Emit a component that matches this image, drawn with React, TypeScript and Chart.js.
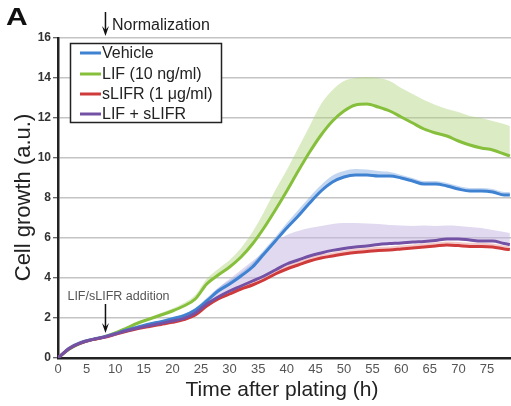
import { useEffect, useRef } from "react";
import { Chart, registerables } from "chart.js";
Chart.register(...registerables);

const times = [0, 2, 4, 6, 8, 10, 12, 14, 16, 18, 20, 22, 24, 26, 28, 30, 32, 34, 36, 38, 40, 42, 44, 46, 48, 50, 52, 54, 56, 58, 60, 62, 64, 66, 68, 70, 72, 74, 76, 78, 79];

const vehicle = [0, 0.5, 0.78, 0.93, 1.05, 1.22, 1.4, 1.55, 1.7, 1.82, 1.97, 2.12, 2.4, 2.85, 3.35, 3.7, 4.1, 4.55, 5.2, 5.85, 6.5, 7.1, 7.75, 8.35, 8.8, 9.05, 9.15, 9.15, 9.1, 9.1, 9.0, 8.85, 8.7, 8.7, 8.6, 8.45, 8.35, 8.35, 8.3, 8.15, 8.15];
const vehicleUpper = [0, 0.55, 0.83, 0.98, 1.1, 1.27, 1.45, 1.6, 1.75, 1.88, 2.03, 2.2, 2.5, 3.0, 3.5, 3.87, 4.27, 4.75, 5.4, 6.05, 6.75, 7.4, 8.05, 8.65, 9.12, 9.35, 9.45, 9.42, 9.35, 9.3, 9.15, 9.0, 8.85, 8.85, 8.75, 8.6, 8.5, 8.5, 8.45, 8.3, 8.3];

const lif = [0, 0.45, 0.75, 0.92, 1.05, 1.25, 1.5, 1.75, 1.95, 2.15, 2.35, 2.6, 2.95, 3.7, 4.15, 4.55, 5.05, 5.7, 6.5, 7.4, 8.35, 9.35, 10.3, 11.15, 11.85, 12.35, 12.65, 12.7, 12.55, 12.35, 12.05, 11.75, 11.45, 11.25, 11.1, 10.85, 10.65, 10.5, 10.4, 10.2, 10.1];
const lifUpper = [0, 0.5, 0.8, 0.95, 1.08, 1.3, 1.55, 1.82, 2.03, 2.25, 2.47, 2.75, 3.15, 3.95, 4.45, 4.9, 5.5, 6.3, 7.3, 8.4, 9.4, 10.5, 11.6, 12.7, 13.4, 13.85, 14.0, 14.05, 14.0, 13.85, 13.5, 13.2, 12.9, 12.65, 12.45, 12.3, 12.1, 12.0, 11.85, 11.7, 11.6];

const sLifr = [0, 0.48, 0.75, 0.92, 1.03, 1.18, 1.33, 1.47, 1.58, 1.68, 1.78, 1.92, 2.15, 2.6, 2.95, 3.2, 3.45, 3.65, 3.9, 4.2, 4.45, 4.65, 4.85, 5.0, 5.1, 5.2, 5.28, 5.32, 5.38, 5.4, 5.45, 5.5, 5.55, 5.6, 5.65, 5.62, 5.58, 5.58, 5.55, 5.45, 5.42];
const sLifrUpper = [0, 0.52, 0.8, 0.97, 1.08, 1.24, 1.4, 1.55, 1.67, 1.78, 1.9, 2.05, 2.3, 2.75, 3.1, 3.37, 3.62, 3.83, 4.08, 4.38, 4.63, 4.83, 5.03, 5.18, 5.28, 5.38, 5.46, 5.5, 5.56, 5.58, 5.63, 5.68, 5.73, 5.78, 5.83, 5.8, 5.76, 5.76, 5.73, 5.63, 5.6];

const combo = [0, 0.48, 0.76, 0.92, 1.04, 1.2, 1.36, 1.5, 1.62, 1.73, 1.85, 1.98, 2.25, 2.7, 3.05, 3.35, 3.6, 3.85, 4.1, 4.4, 4.7, 4.9, 5.1, 5.25, 5.38, 5.48, 5.55, 5.6, 5.68, 5.72, 5.75, 5.8, 5.83, 5.88, 5.95, 5.95, 5.9, 5.85, 5.85, 5.72, 5.68];
const comboUpper = [0, 0.5, 0.78, 0.94, 1.06, 1.23, 1.4, 1.55, 1.68, 1.8, 1.93, 2.08, 2.4, 2.95, 3.5, 3.95, 4.4, 4.85, 5.3, 5.8, 6.15, 6.35, 6.5, 6.6, 6.7, 6.75, 6.75, 6.72, 6.7, 6.65, 6.62, 6.6, 6.62, 6.6, 6.62, 6.6, 6.55, 6.5, 6.4, 6.3, 6.25];

const seriesNames = ["Vehicle", "LIF (10 ng/ml)", "sLIFR (1 \u03bcg/ml)", "LIF + sLIFR"];
const seriesColors = ["#3f82d2", "#86bf3c", "#cf3a3a", "#7352a6"];
const bandColors = ["rgba(120,165,225,0.45)", "rgba(175,212,125,0.45)", "rgba(235,160,160,0.55)", "rgba(195,180,225,0.5)"];

const yTicks = [0, 2, 4, 6, 8, 10, 12, 14, 16];
const FONT = "'Liberation Sans', Arial, Helvetica, sans-serif";

const pts = (vals: number[]) => vals.map((v, i) => ({ x: times[i], y: v }));

function arrow(ctx: CanvasRenderingContext2D, x: number, y1: number, y2: number) {
  ctx.beginPath();
  ctx.moveTo(x, y1);
  ctx.lineTo(x, y2 - 4);
  ctx.strokeStyle = "#111";
  ctx.lineWidth = 1.5;
  ctx.stroke();
  ctx.beginPath();
  ctx.moveTo(x - 3.5, y2 - 10);
  ctx.lineTo(x, y2);
  ctx.lineTo(x + 3.5, y2 - 10);
  ctx.lineTo(x, y2 - 6);
  ctx.closePath();
  ctx.fillStyle = "#111";
  ctx.fill();
}

const annotPlugin = {
  id: "annot",
  afterDraw(chart: any) {
    const ctx: CanvasRenderingContext2D = chart.ctx;
    const xs = chart.scales.x;
    const ca = chart.chartArea;
    ctx.save();
    // panel letter
    ctx.save();
    ctx.fillStyle = "#111";
    ctx.font = `bold 24px ${FONT}`;
    ctx.textBaseline = "alphabetic";
    ctx.textAlign = "left";
    ctx.translate(6, 25);
    ctx.scale(1.25, 1);
    ctx.fillText("A", 0, 0);
    ctx.restore();
    // normalization arrow
    const xa = xs.getPixelForValue(8.3);
    arrow(ctx, xa, 12, 36);
    ctx.font = `16px ${FONT}`;
    ctx.fillStyle = "#222";
    ctx.textAlign = "left";
    ctx.textBaseline = "alphabetic";
    ctx.fillText("Normalization", 112, 29.5);
    // LIF/sLIFR addition
    ctx.font = `12.5px ${FONT}`;
    ctx.fillStyle = "#555";
    ctx.textAlign = "center";
    ctx.fillText("LIF/sLIFR addition", 118.5, 299.5);
    arrow(ctx, xa, 304, 333);
    // legend
    ctx.fillStyle = "#fff";
    ctx.fillRect(70, 43, 152, 80);
    ctx.strokeStyle = "#222";
    ctx.lineWidth = 1.5;
    ctx.strokeRect(70.5, 43.5, 151, 79);
    ctx.textAlign = "left";
    ctx.font = `16px ${FONT}`;
    const rows = [53, 74, 94, 114];
    seriesNames.forEach((n, i) => {
      ctx.beginPath();
      ctx.moveTo(80, rows[i]);
      ctx.lineTo(101, rows[i]);
      ctx.strokeStyle = seriesColors[i];
      ctx.lineWidth = 3;
      ctx.stroke();
      ctx.fillStyle = "#222";
      ctx.textBaseline = "middle";
      ctx.fillText(n, 102, rows[i] + 1);
    });
    // axis titles
    ctx.fillStyle = "#222";
    ctx.font = `21px ${FONT}`;
    ctx.textAlign = "center";
    ctx.textBaseline = "alphabetic";
    ctx.fillText("Time after plating (h)", 282, 396);
    ctx.save();
    ctx.translate(30, 197.5);
    ctx.rotate(-Math.PI / 2);
    ctx.font = `22px ${FONT}`;
    ctx.fillText("Cell growth (a.u.)", 0, 0);
    ctx.restore();
    ctx.restore();
  },
};

export default function App() {
  const ref = useRef<HTMLCanvasElement>(null);
  useEffect(() => {
    if (!ref.current) return;
    const means = [vehicle, lif, sLifr, combo];
    const uppers = [vehicleUpper, lifUpper, sLifrUpper, comboUpper];
    const meanOrder = [3, 4, 2, 1];
    const bandOrder = [8, 10, 7, 9];
    const datasets: any[] = [];
    means.forEach((m, i) => {
      datasets.push({
        label: seriesNames[i],
        data: pts(m),
        borderColor: seriesColors[i],
        borderWidth: 3,
        pointRadius: 0,
        fill: false,
        cubicInterpolationMode: "monotone",
        order: meanOrder[i],
      });
    });
    uppers.forEach((u, i) => {
      datasets.push({
        label: seriesNames[i] + " SD",
        data: pts(u),
        borderColor: "rgba(0,0,0,0)",
        borderWidth: 0,
        backgroundColor: bandColors[i],
        pointRadius: 0,
        fill: { target: i, above: bandColors[i], below: bandColors[i] },
        cubicInterpolationMode: "monotone",
        order: bandOrder[i],
      });
    });
    const chart = new Chart(ref.current, {
      type: "line",
      data: { datasets },
      options: {
        animation: false,
        responsive: false,
        devicePixelRatio: 1,
        layout: { padding: { top: 38, left: 0, right: 0, bottom: 0 } },
        plugins: { legend: { display: false }, tooltip: { enabled: false } },
        scales: {
          x: {
            type: "linear",
            min: 0,
            max: 79.2,
            afterFit: (s: any) => {
              s.height = 48;
            },
            grid: { display: false, drawTicks: false },
            border: { color: "#222", width: 2.5 },
            ticks: {
              stepSize: 5,
              includeBounds: false,
              padding: 4,
              color: "#555",
              font: { family: FONT, size: 13 },
              maxRotation: 0,
            },
          },
          y: {
            type: "linear",
            min: 0,
            max: 16,
            afterFit: (s: any) => {
              s.width = 58;
            },
            afterBuildTicks: (s: any) => {
              s.ticks = yTicks.map((v) => ({ value: v }));
            },
            grid: { color: "#c4c4c4", lineWidth: 1.5, tickLength: 5, tickColor: "#333", tickWidth: 1 },
            border: { color: "#222", width: 2.5 },
            ticks: {
              padding: 2,
              color: "#333",
              font: { family: FONT, size: 12, weight: "bold" },
            },
          },
        },
      },
      plugins: [annotPlugin],
    });
    return () => chart.destroy();
  }, []);
  return (
    <div style={{ position: "fixed", left: 0, top: 0, width: 511, height: 406, background: "#fff" }}>
      <canvas ref={ref} width={511} height={406} style={{ display: "block" }} />
    </div>
  );
}
